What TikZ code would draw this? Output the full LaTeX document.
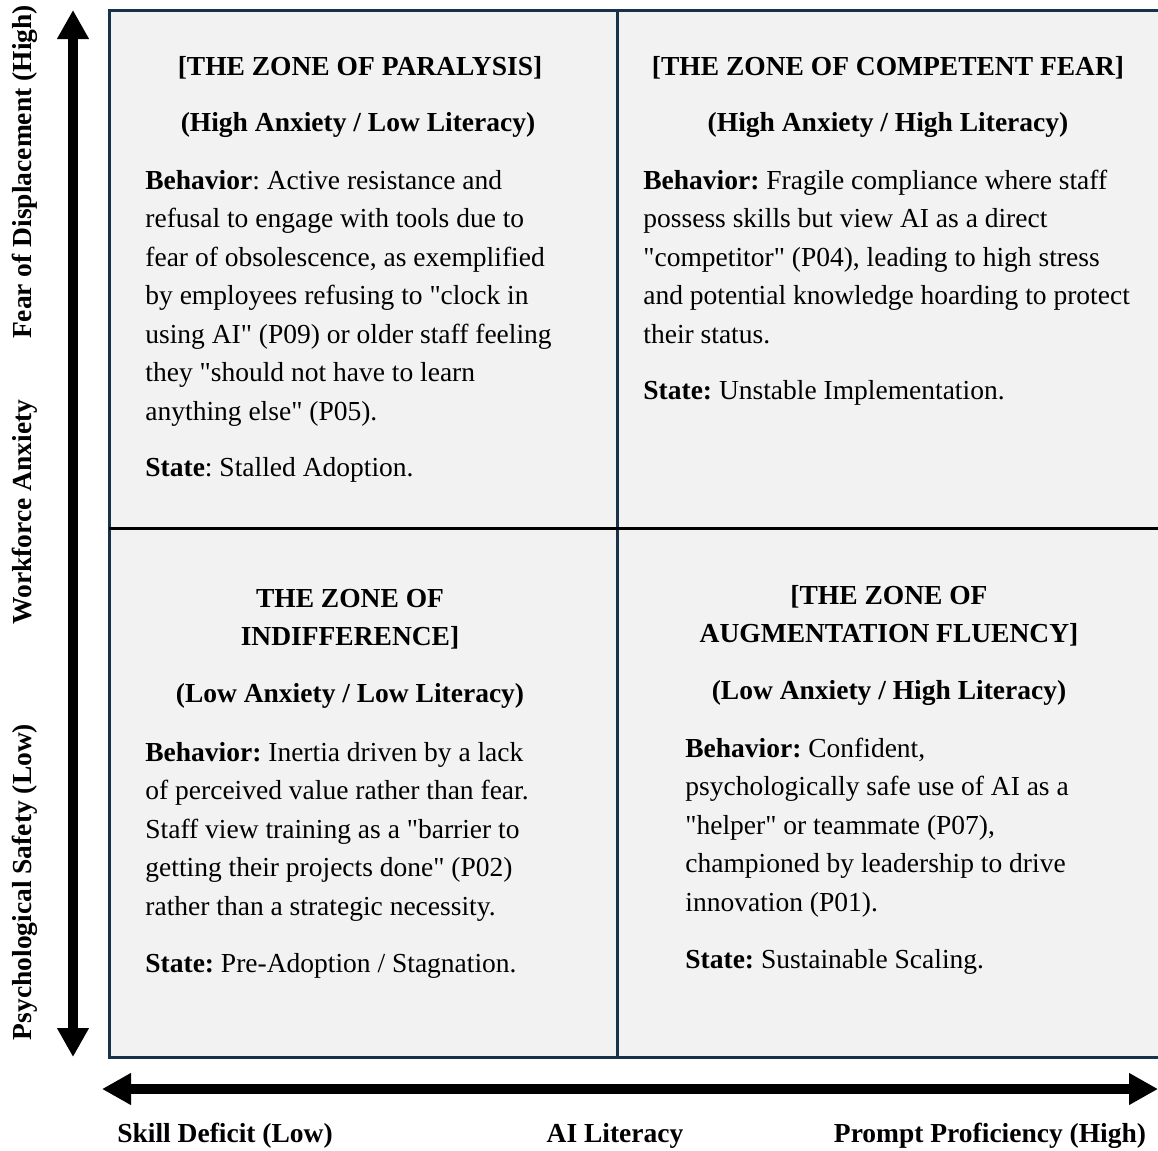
\documentclass[tikz,border=0pt]{standalone}
\usepackage{fontspec}
\setmainfont{Liberation Serif}[Ligatures=TeXOff]
\usepackage{tikz}
\usepackage{xcolor}
\usetikzlibrary{positioning,calc,arrows.meta}
\definecolor{zonegray}{HTML}{F2F2F2}
\definecolor{zonenavy}{HTML}{17324A}
\newcommand{\zfont}{\fontsize{13.75}{19.25}\selectfont\frenchspacing}
\newcommand{\ztext}[3]{\node [bodytext] (#1) at (#2) {#3}}
\newcommand{\ztitle}[3]{\node [titletext] (#1) at (#2) {#3}}

\begin{document}
\begin{tikzpicture}[x=0.5pt,y=-0.5pt,
  bodytext/.style={font=\zfont, align=left, anchor=base west, inner sep=0pt},
  titletext/.style={font=\zfont\bfseries, align=center, inner sep=0pt},
  axislabel/.style={font=\zfont\bfseries, inner sep=0pt},
  axisarrow/.style={line width=5pt, {Triangle[length=14.5pt,width=15pt]}-{Triangle[length=14.5pt,width=15pt]}}]

\useasboundingbox (0,0) rectangle (1158,1151);

% quadrant grid
\fill[zonegray] (109,10) rectangle (1170,1057);
\draw[zonenavy, line width=1.5pt] (1170,10) -- (109,10) -- (109,1057) -- (1170,1057);
\draw[zonenavy, line width=1.5pt] (617,10) -- (617,1057);
\draw[black, line width=1.5pt] (109,528) -- (1170,528);

% axes
\coordinate (VTOP) at (73,10);
\coordinate (VBOT) at (73,1057);
\coordinate (HLEFT) at (102,1089);
\coordinate (HRIGHT) at (1158,1089);
\draw[axisarrow] (VBOT) -- (VTOP);
\draw[axisarrow] (HLEFT) -- (HRIGHT);

\node [axislabel, rotate=90] (FEAR) at (25,172) {Fear of Displacement (High)};
\node [axislabel, rotate=90] (ANX) at (25,512) {Workforce Anxiety};
\node [axislabel, rotate=90] (SAFE) at (25,882) {Psychological Safety (Low)};
\node [axislabel] (SKILL) at (225,1136) {Skill Deficit (Low)};
\node [axislabel] (LIT) at (615,1136) {AI Literacy};
\node [axislabel] (PROMPT) at (990,1136) {Prompt Proficiency (High)};

% top left (base = last line)
\ztitle{PARA}{360,68}{[THE ZONE OF PARALYSIS]};
\ztitle{PARASUB}{358,125}{(High Anxiety / Low Literacy)};
\ztext{PARABODY}{145,420}{\textbf{Behavior}: Active resistance and\\
refusal to engage with tools due to\\
fear of obsolescence, as exemplified\\
by employees refusing to "clock in\\
using AI" (P09) or older staff feeling\\
they "should not have to learn\\
anything else" (P05).};
\ztext{PARASTATE}{145,476}{\textbf{State}: Stalled Adoption.};

% top right
\ztitle{FEARZ}{888,68}{[THE ZONE OF COMPETENT FEAR]};
\ztitle{FEARSUB}{888,125}{(High Anxiety / High Literacy)};
\ztext{FEARBODY}{643,343}{\textbf{Behavior:} Fragile compliance where staff\\
possess skills but view AI as a direct\\
"competitor" (P04), leading to high stress\\
and potential knowledge hoarding to protect\\
their status.};
\ztext{FEARSTATE}{643,399}{\textbf{State:} Unstable Implementation.};

% bottom left
\ztitle{INDI}{350,619}{THE ZONE OF\\INDIFFERENCE]};
\ztitle{INDISUB}{350,696}{(Low Anxiety / Low Literacy)};
\ztext{INDIBODY}{145,915}{\textbf{Behavior:} Inertia driven by a lack\\
of perceived value rather than fear.\\
Staff view training as a "barrier to\\
getting their projects done" (P02)\\
rather than a strategic necessity.};
\ztext{INDISTATE}{145,972}{\textbf{State:} Pre-Adoption / Stagnation.};

% bottom right
\ztitle{AUGM}{889,616}{[THE ZONE OF\\AUGMENTATION FLUENCY]};
\ztitle{AUGMSUB}{889,693}{(Low Anxiety / High Literacy)};
\ztext{AUGMBODY}{685,911}{\textbf{Behavior:} Confident,\\
psychologically safe use of AI as a\\
"helper" or teammate (P07),\\
championed by leadership to drive\\
innovation (P01).};
\ztext{AUGMSTATE}{685,968}{\textbf{State:} Sustainable Scaling.};

\end{tikzpicture}
\end{document}
